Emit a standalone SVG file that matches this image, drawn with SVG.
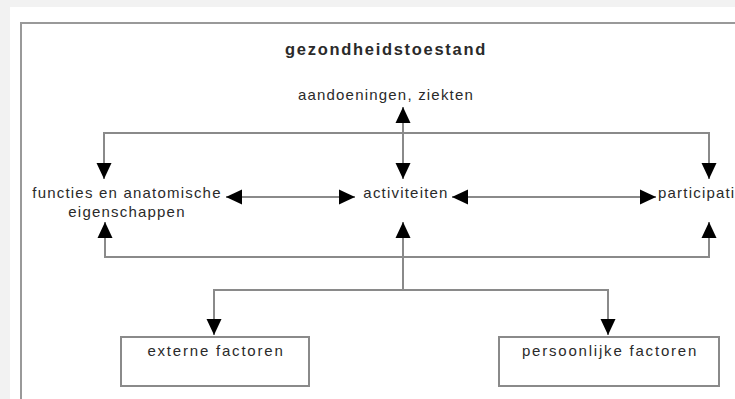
<svg xmlns="http://www.w3.org/2000/svg" width="735" height="399" viewBox="0 0 735 399">
<defs>
<style>
.t{font-family:"Liberation Sans",Arial,sans-serif;font-size:15px;fill:#2a2a2a;letter-spacing:1.2px}
.b{font-weight:bold;font-size:16.5px;letter-spacing:1.7px}
.f{letter-spacing:1.8px}
.c{fill:none;stroke:#8a8a8a;stroke-width:2}
.box{fill:#fff;stroke:#8a8a8a;stroke-width:2}
</style>
<marker id="ah" viewBox="0 0 16 16" markerWidth="16" markerHeight="16" markerUnits="userSpaceOnUse" refX="16" refY="8" orient="auto-start-reverse">
<path d="M0,0.5 L16,8 L0,15.5 z" fill="#000"/>
</marker>
</defs>
<rect width="735" height="399" fill="#f2f2f2"/>
<rect x="10" y="7" width="725" height="392" fill="#fff"/>
<path d="M21,399 V23 H735" fill="none" stroke="#999" stroke-width="2"/>
<g id="connectors">
<path class="c" d="M104,179 V133 H709 V179" marker-start="url(#ah)" marker-end="url(#ah)"/>
<path class="c" d="M403,107 V179" marker-start="url(#ah)" marker-end="url(#ah)"/>
<path class="c" d="M105,222 V257 H709 V222" marker-start="url(#ah)" marker-end="url(#ah)"/>
<path class="c" d="M403,222 V290" marker-start="url(#ah)"/>
<path class="c" d="M214,335 V290 H608 V335" marker-start="url(#ah)" marker-end="url(#ah)"/>
<path class="c" d="M226,197 H355" marker-start="url(#ah)" marker-end="url(#ah)"/>
<path class="c" d="M452,197 H656" marker-start="url(#ah)" marker-end="url(#ah)"/>
</g>
<g id="gezondheidstoestand"><text class="t b" x="386" y="55" text-anchor="middle">gezondheidstoestand</text></g>
<g id="aandoeningen"><text class="t" x="386" y="100" text-anchor="middle">aandoeningen, ziekten</text></g>
<g id="functies"><text class="t" x="127" y="198" text-anchor="middle">functies en anatomische</text><text class="t" x="127" y="217" text-anchor="middle">eigenschappen</text></g>
<g id="activiteiten"><text class="t" x="406" y="198" text-anchor="middle">activiteiten</text></g>
<g id="participatie"><text class="t" x="658" y="198">participatie</text></g>
<g id="externe"><rect class="box" x="121" y="337" width="188" height="49"/><text class="t f" x="216" y="356" text-anchor="middle">externe factoren</text></g>
<g id="persoonlijke"><rect class="box" x="499" y="337" width="220" height="49"/><text class="t f" x="610" y="356" text-anchor="middle">persoonlijke factoren</text></g>
</svg>
